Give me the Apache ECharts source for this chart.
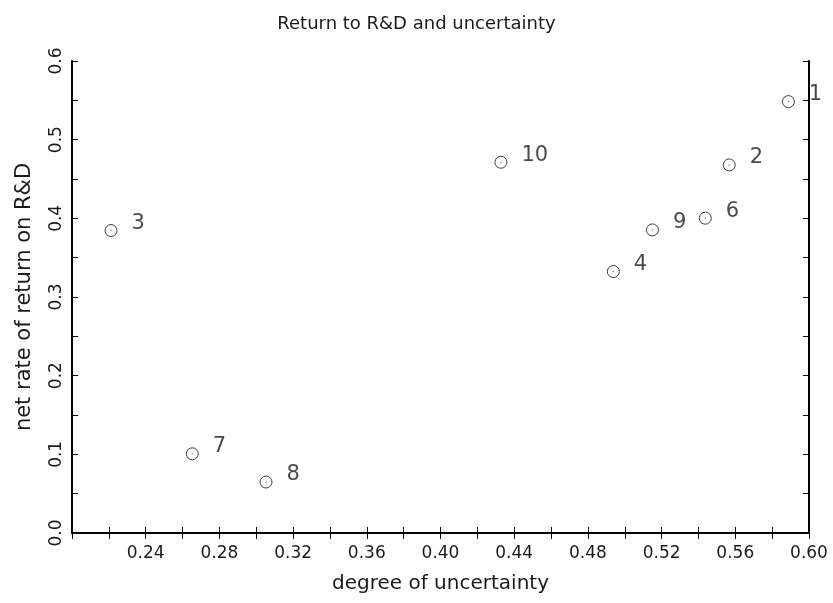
<!DOCTYPE html>
<html>
<head>
<meta charset="utf-8">
<script src="https://cdn.jsdelivr.net/npm/echarts@6/dist/echarts.min.js"></script>
<style>html,body{margin:0;padding:0;background:#fff}#c{width:833px;height:603px}</style>
</head>
<body>
<div id="c"></div>
<script>
// Data
const pointIds = ['1', '2', '3', '4', '6', '7', '8', '9', '10'];
const uncertainty = [0.5888, 0.5567, 0.2212, 0.4938, 0.5437, 0.2653, 0.3053, 0.5150, 0.4328];
const returnRD = [0.5484, 0.4679, 0.3845, 0.3324, 0.4002, 0.1007, 0.0648, 0.3853, 0.4713];

const FONT = 'DejaVu Sans';
const TXT = '#1a1a1a';

const pts = pointIds.map((id, i) => ({ name: id, value: [uncertainty[i], returnRD[i]] }));

const chart = echarts.init(document.getElementById('c'), null, { renderer: 'canvas' });
const axisLineStyle = { color: '#000', width: 2 };
const tickStyle = { color: '#000', width: 1 };
chart.setOption({
  animation: false,
  backgroundColor: '#fff',
  title: {
    text: 'Return to R&D and uncertainty',
    left: 'center', top: 10,
    textStyle: { fontFamily: FONT, fontSize: 18, fontWeight: 'normal', color: TXT }
  },
  grid: { left: 72, right: 24, top: 61, bottom: 70 },
  xAxis: [{
    type: 'value', position: 'bottom', min: 0.2, max: 0.6, interval: 0.02,
    name: 'degree of uncertainty', nameLocation: 'middle', nameGap: 41,
    nameTextStyle: { fontFamily: FONT, fontSize: 20, color: TXT },
    axisLine: { show: true, lineStyle: axisLineStyle },
    axisTick: { show: true, inside: true, length: 6, lineStyle: tickStyle },
    splitLine: { show: false },
    axisLabel: {
      fontFamily: FONT, fontSize: 17, color: TXT, margin: 12,
      formatter: v => { const k = Math.round(v * 100); return (k % 4 === 0 && k > 20) ? (k / 100).toFixed(2) : ''; }
    }
  }, {
    type: 'value', position: 'top', min: 0.2, max: 0.6, interval: 0.02,
    axisLine: { show: true, lineStyle: axisLineStyle },
    axisTick: { show: true, inside: true, length: 6, lineStyle: tickStyle },
    axisLabel: { show: false }, splitLine: { show: false }
  }],
  yAxis: [{
    type: 'value', position: 'left', min: 0, max: 0.6, interval: 0.05,
    name: 'net rate of return on R&D', nameLocation: 'middle', nameGap: 37,
    nameTextStyle: { fontFamily: FONT, fontSize: 21, color: TXT },
    axisLine: { show: true, lineStyle: axisLineStyle },
    axisTick: { show: true, inside: true, length: 6, lineStyle: tickStyle },
    splitLine: { show: false },
    axisLabel: {
      fontFamily: FONT, fontSize: 17, color: TXT, rotate: 90, margin: 7,
      formatter: v => { const k = Math.round(v * 100); return (k % 10 === 0) ? (k / 100).toFixed(1) : ''; }
    }
  }, {
    type: 'value', position: 'right', min: 0, max: 0.6, interval: 0.05,
    axisLine: { show: true, lineStyle: axisLineStyle },
    axisTick: { show: true, inside: true, length: 6, lineStyle: tickStyle },
    axisLabel: { show: false }, splitLine: { show: false }
  }],
  series: [{
    type: 'scatter', xAxisIndex: 0, yAxisIndex: 0,
    data: pts,
    symbol: 'circle', symbolSize: 12,
    itemStyle: { color: 'rgba(0,0,0,0)', borderColor: '#111', borderWidth: 1 },
    label: {
      show: true, position: 'right', distance: 14, offset: [0, -7],
      formatter: p => p.name,
      fontFamily: FONT, fontSize: 21, color: TXT
    },
    z: 3
  }, {
    type: 'scatter', xAxisIndex: 0, yAxisIndex: 0,
    data: pts.map(p => p.value),
    symbol: 'circle', symbolSize: 1.5,
    itemStyle: { color: '#666' },
    silent: true, z: 4
  }]
});
</script>
</body>
</html>
